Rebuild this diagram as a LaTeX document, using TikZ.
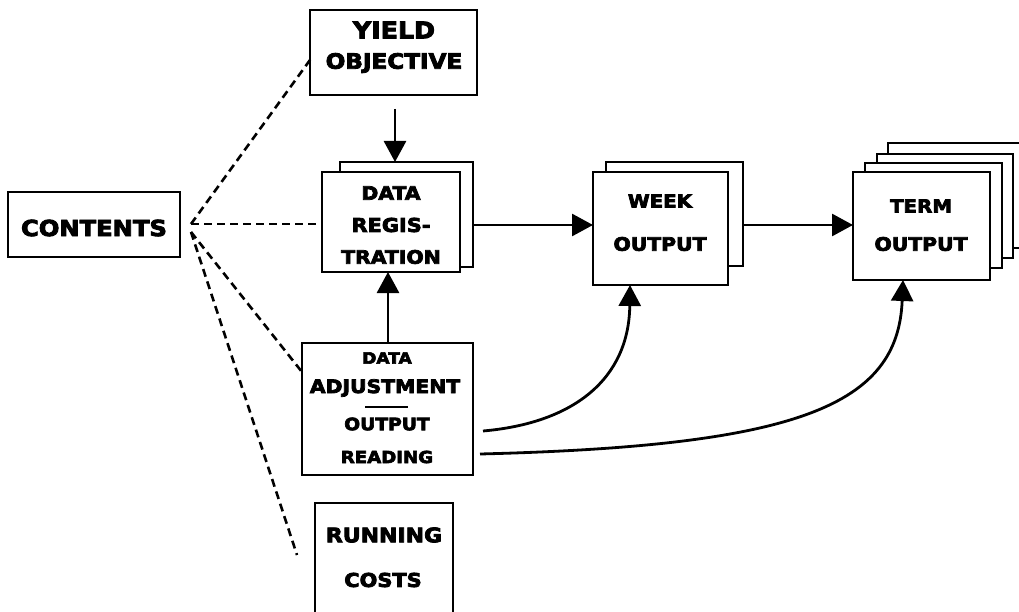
\documentclass[tikz,border=0pt]{standalone}
\usepackage{fontspec}
\newfontfamily\lbl[FakeStretch=1.1,FakeBold=4]{DejaVu Sans}
\usetikzlibrary{arrows.meta}
\begin{document}
\begin{tikzpicture}[x=1pt,y=-1pt,
  box/.style={draw, line width=2.8pt, fill=white, inner sep=0pt, outer sep=0pt},
  sheet/.style={draw, line width=2.8pt, fill=white},
  txt/.style={inner sep=0pt, font=\lbl\bfseries},
  flow/.style={line width=2.8pt, -{Triangle[length=21pt,width=22pt]}},
  link/.style={line width=2.6pt, dash pattern=on 8pt off 5pt}]
\useasboundingbox (0,0) rectangle (1019,612);
\begin{scope}
\clip (0,0) rectangle (1019,612);

% stacked sheets behind the main boxes
\draw[sheet] (340,162) rectangle (473,267);
\draw[sheet] (606,162) rectangle (743,266);
\draw[sheet] (888,143) rectangle (1030,248);
\draw[sheet] (877,154) rectangle (1013,258);
\draw[sheet] (865,163) rectangle (1002,268);

% boxes
\node[box, minimum width=172pt, minimum height=65pt] (contents) at (94,224.5) {};
\node[box, minimum width=167pt, minimum height=85pt] (yield) at (393.5,52.5) {};
\node[box, minimum width=138pt, minimum height=100pt] (reg) at (391,222) {};
\node[box, minimum width=171pt, minimum height=132pt] (adj) at (387.5,409) {};
\node[box, minimum width=138pt, minimum height=140pt] (run) at (384,573) {};
\node[box, minimum width=135pt, minimum height=113pt] (week) at (660.5,228.5) {};
\node[box, minimum width=137pt, minimum height=108pt] (term) at (921.5,226) {};

% labels
\node[txt, font=\lbl\bfseries\fontsize{22}{26}\selectfont] at (94,228) {CONTENTS};
\node[txt, font=\lbl\bfseries\fontsize{23}{27}\selectfont] at (394,30) {YIELD};
\node[txt, font=\lbl\bfseries\fontsize{21}{26}\selectfont] at (394,63) {OBJECTIVE};
\node[txt, font=\lbl\bfseries\fontsize{18.5}{22}\selectfont] at (391,193) {DATA};
\node[txt, font=\lbl\bfseries\fontsize{19}{22}\selectfont] at (391,225) {REGIS-};
\node[txt, font=\lbl\bfseries\fontsize{18.5}{22}\selectfont] at (391,257) {TRATION};
\node[txt, font=\lbl\bfseries\fontsize{15.5}{18}\selectfont] at (387,358) {DATA};
\node[txt, font=\lbl\bfseries\fontsize{18.5}{22}\selectfont] at (385,388) {ADJUSTMENT};
\node[txt, font=\lbl\bfseries\fontsize{17}{20}\selectfont] at (387,424) {OUTPUT};
\node[txt, font=\lbl\bfseries\fontsize{16.5}{20}\selectfont] at (387,457) {READING};
\node[txt, font=\lbl\bfseries\fontsize{20}{24}\selectfont] at (384,535) {RUNNING};
\node[txt, font=\lbl\bfseries\fontsize{19}{24}\selectfont] at (383,580) {COSTS};
\node[txt, font=\lbl\bfseries\fontsize{18}{22}\selectfont] at (660,201) {WEEK};
\node[txt, font=\lbl\bfseries\fontsize{18.5}{22}\selectfont] at (660,244) {OUTPUT};
\node[txt, font=\lbl\bfseries\fontsize{18}{22}\selectfont] at (921,206) {TERM};
\node[txt, font=\lbl\bfseries\fontsize{18.5}{22}\selectfont] at (921,244) {OUTPUT};
\draw[line width=2.6pt] (365,407) -- (408,407);

% dashed links from the contents box
\coordinate (hub) at (191,224);
\coordinate (runend) at (297,555);
\draw[link] (hub) -- (yield.west |- 0,60);
\draw[link] (hub) -- (reg.west |- hub);
\draw[link] ([yshift=-8pt]hub) -- (adj.west |- 0,372);
\draw[link] ([yshift=-8pt]hub) -- (runend);

% flow arrows
\draw[flow] ([yshift=-14pt]yield.south -| 395,0) -- (395,162);
\draw[flow] (adj.north -| 388,0) -- (reg.south -| 388,0);
\draw[flow] (473,225) -- (week.west |- 0,225);
\draw[flow] (743,225) -- (term.west |- 0,225);
\coordinate (c1) at ([xshift=10pt]adj.east |- 0,431);
\coordinate (c2) at ([xshift=7pt]adj.east |- 0,454);
\draw[flow] (c1) .. controls (575,423) and (629,378) .. (week.south -| 630,0);
\draw[flow] (c2) .. controls (800,446) and (898,405) .. (term.south -| 903,0);
\end{scope}
\end{tikzpicture}
\end{document}
